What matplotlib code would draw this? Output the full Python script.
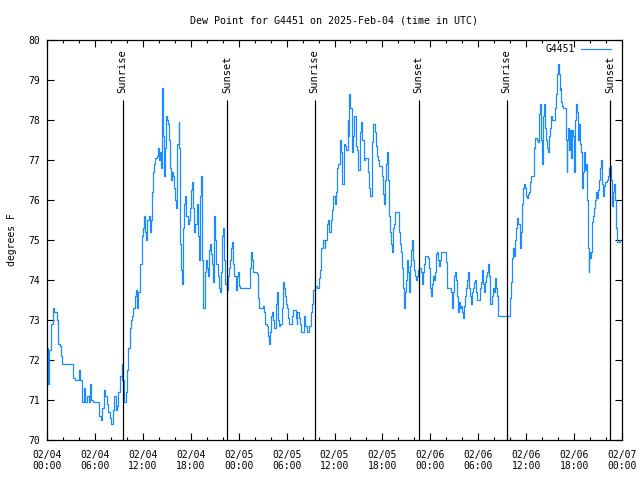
import pandas as pd
import matplotlib
matplotlib.use("Agg")
import matplotlib.pyplot as plt
import matplotlib.dates as mdates

plt.rcParams['font.family'] = ['DejaVu Sans Mono']
plt.rcParams['font.size'] = 7

station = "G4451"
start = pd.Timestamp("2025-02-04 00:00")

# minutes after 02/04 00:00 UTC
minutes = [
    0, 4, 8, 15, 30, 45, 52, 75, 82, 98,
    105, 112, 188, 195, 210, 232, 240, 248, 262, 278,
    285, 300, 315, 322, 330, 345, 382, 390, 405, 412,
    428, 435, 450, 458, 472, 480, 495, 502, 518, 525,
    532, 548, 562, 566, 578, 592, 600, 608, 622, 630,
    638, 645, 660, 668, 675, 682,
    698, 712, 720, 728, 735, 742, 750, 765, 772, 780,
    788, 795, 802, 810, 825, 832, 840, 848, 855, 862,
    866, 870, 878, 885, 892, 900, 908, 915, 922, 930,
    938, 945, 952, 960, 968, 975, 990, 994, 998, 1005,
    1012, 1020, 1028, 1035, 1042, 1058, 1065, 1072, 1080, 1088,
    1095, 1102, 1110, 1125, 1132, 1140, 1148, 1155, 1162, 1170,
    1174, 1185, 1192, 1200, 1208, 1215, 1222, 1230, 1238, 1245,
    1252, 1260, 1268, 1282, 1290, 1298, 1305, 1312, 1320, 1328,
    1335, 1350, 1358, 1365, 1372, 1380, 1388, 1395, 1402, 1418,
    1425, 1432, 1440, 1448, 1515, 1522, 1530, 1538, 1545, 1560,
    1575, 1582, 1590, 1612, 1620, 1628, 1635, 1650, 1658, 1665,
    1672, 1680, 1688, 1695, 1702, 1718, 1721, 1725, 1732, 1740,
    1748, 1762, 1770, 1778, 1785, 1792, 1800, 1808, 1815, 1830,
    1838, 1845, 1860, 1868, 1875, 1882, 1890, 1898, 1912, 1928,
    1931, 1942, 1950, 1965, 1972, 1980, 1988, 1995, 2002, 2010,
    2032, 2040, 2048, 2055, 2062, 2070, 2078, 2085, 2092, 2100,
    2108, 2115, 2122, 2130, 2138, 2145, 2152, 2160, 2168, 2175,
    2182, 2190, 2198, 2205, 2212, 2216, 2220, 2228, 2235, 2242,
    2250, 2258, 2265, 2269, 2272, 2280, 2288, 2295, 2299, 2302,
    2310, 2318, 2325, 2332, 2340, 2348, 2355, 2362, 2370, 2378,
    2385, 2392, 2400, 2408, 2415, 2422, 2430, 2438, 2445, 2449,
    2460, 2468, 2475, 2482, 2490, 2498, 2505, 2520, 2528, 2535,
    2542, 2550, 2558, 2565, 2569, 2572, 2580, 2588, 2595, 2602,
    2610, 2618, 2640, 2648, 2655, 2662, 2670, 2678, 2685, 2692,
    2700, 2708, 2715, 2722, 2730, 2738, 2745, 2752, 2760, 2768,
    2775, 2782, 2790, 2798, 2805, 2812, 2820, 2828, 2835, 2842,
    2858, 2865, 2872, 2880, 2888, 2895, 2902, 2910, 2918, 2921,
    2925, 2932, 2940, 2948, 2955, 2962, 2992, 3000, 3004, 3008,
    3030, 3038, 3045, 3052, 3060, 3068, 3075, 3082, 3090, 3098,
    3105, 3112, 3120, 3128, 3135, 3142, 3150, 3158, 3165, 3172,
    3180, 3188, 3195, 3202, 3210, 3218, 3225, 3232, 3248, 3255,
    3262, 3266, 3270, 3278, 3285, 3292, 3300, 3308, 3315, 3322,
    3330, 3338, 3345, 3352, 3360, 3368, 3375, 3382, 3390, 3472,
    3480, 3488, 3495, 3502, 3510, 3518, 3525, 3532, 3540, 3548,
    3555, 3562, 3570, 3578, 3585, 3592, 3600, 3608, 3615, 3622,
    3630, 3638, 3652, 3656, 3660, 3668, 3675, 3682, 3690, 3698,
    3705, 3712, 3720, 3724, 3728, 3735, 3742, 3750, 3758, 3765,
    3772, 3780, 3788, 3795, 3802, 3810, 3818, 3825, 3832, 3840,
    3848, 3851, 3855, 3862, 3870, 3878, 3892, 3900, 3904, 3908,
    3915, 3922, 3930, 3938, 3945, 3952, 3960, 3968, 3975, 3982,
    3990, 3998, 4005, 4012, 4020, 4028, 4035, 4042, 4050, 4058,
    4065, 4069, 4072, 4080, 4088, 4095, 4102, 4110, 4118, 4125,
    4132, 4140, 4148, 4155, 4162, 4170, 4178, 4185, 4192, 4200,
    4208, 4215, 4222, 4230, 4238, 4245, 4252, 4260, 4268, 4275,
    4282, 4298, 4305,
]

# dew point, degrees F
dewpt = [
    72.3, 72.0, 71.4, 72.25, 72.9, 73.3, 73.2, 73.0, 72.4, 72.35,
    72.1, 71.9, 71.9, 71.55, 71.5, 71.5, 71.75, 71.5, 70.95, 71.3,
    70.95, 71.1, 70.95, 71.4, 71.0, 70.95, 70.95, 70.6, 70.5, 70.8,
    71.25, 71.1, 70.9, 70.7, 70.55, 70.4, 70.75, 71.1, 70.75, 70.85,
    71.2, 71.6, 71.9, 71.5, 70.95, 71.2, 71.75, 72.3, 72.8, 73.0,
    73.1, 73.3, 73.6, 73.75, 73.3, 73.7,
    74.4, 75.1, 75.3, 75.6, 75.2, 75.0, 75.5, 75.6, 75.2, 75.5,
    76.2, 76.7, 76.9, 77.05, 77.1, 77.3, 77.0, 77.2, 76.8, 78.3,
    78.8, 77.6, 76.6, 77.3, 78.1, 78.0, 77.9, 77.5, 76.8, 76.5,
    76.7, 76.6, 76.3, 76.0, 75.8, 77.4, 77.95, 77.3, 74.9, 74.25,
    73.9, 75.3, 75.9, 76.1, 75.6, 75.4, 75.5, 75.8, 76.25, 76.45,
    75.8, 75.2, 75.4, 75.9, 75.1, 74.5, 76.1, 76.6, 74.5, 73.75,
    73.3, 74.2, 74.5, 74.3, 74.1, 74.75, 74.9, 74.65, 74.4, 73.95,
    75.6, 75.0, 74.4, 74.1, 73.8, 73.7, 74.2, 75.1, 75.3, 74.5,
    73.9, 73.75, 74.1, 74.3, 74.5, 74.8, 74.95, 74.4, 74.1, 73.75,
    74.1, 74.2, 73.85, 73.8, 73.8, 74.3, 74.7, 74.5, 74.2, 74.2,
    74.15, 73.55, 73.3, 73.3, 73.35, 73.2, 72.9, 72.85, 72.6, 72.4,
    72.7, 73.1, 73.2, 73.0, 72.8, 72.8, 73.4, 73.7, 73.0, 72.85,
    72.9, 73.3, 73.95, 73.8, 73.6, 73.4, 73.3, 73.05, 72.9, 72.9,
    73.1, 73.25, 73.25, 73.05, 72.9, 73.2, 73.05, 72.9, 72.7, 72.7,
    73.1, 72.85, 72.7, 72.7, 72.85, 73.2, 73.4, 73.6, 73.75, 73.85,
    73.8, 74.05, 74.25, 74.6, 74.8, 75.0, 75.0, 74.8, 75.0, 75.4,
    75.5, 75.2, 75.2, 75.5, 75.75, 76.0, 76.1, 75.9, 76.0, 76.2,
    76.8, 76.9, 77.3, 77.5, 77.2, 76.7, 76.4, 77.2, 77.4, 77.35,
    77.25, 78.0, 77.6, 78.45, 78.65, 78.3, 77.5, 77.2, 77.5, 77.6,
    78.1, 77.6, 77.35, 77.25, 76.75, 77.0, 77.7, 77.95, 77.5, 77.15,
    77.0, 77.05, 77.05, 77.0, 76.7, 76.3, 76.1, 76.6, 77.45, 77.9,
    77.9, 77.7, 77.35, 77.1, 77.0, 76.85, 76.85, 76.6, 76.15, 75.9,
    76.5, 76.9, 77.2, 76.5, 76.0, 75.6, 75.2, 74.9, 74.7, 75.3,
    75.4, 75.7, 75.7, 75.2, 74.9, 74.7, 74.3, 73.8, 73.3, 73.7,
    74.0, 74.5, 74.2, 73.7, 74.35, 74.75, 75.0, 74.5, 74.25, 74.1,
    74.0, 74.1, 74.25, 74.3, 74.3, 74.2, 73.9, 74.2, 74.4, 74.6,
    74.6, 74.55, 74.3, 73.8, 73.6, 73.9, 74.1, 74.0, 74.2, 74.5,
    74.65, 74.7, 74.5, 74.35, 74.5, 74.7, 74.7, 74.45, 74.05, 73.8,
    73.8, 73.7, 73.3, 73.7, 74.1, 74.2, 74.0, 73.6, 73.2, 73.45,
    73.3, 73.35, 73.2, 73.05, 73.35, 73.6, 73.8, 74.0, 74.2, 73.8,
    73.6, 73.4, 73.7, 73.8, 73.95, 74.0, 73.7, 73.5, 73.5, 73.8,
    73.95, 74.1, 74.25, 73.9, 73.7, 73.95, 74.1, 74.2, 74.4, 74.1,
    73.4, 73.4, 73.6, 73.8, 73.7, 74.05, 73.8, 73.6, 73.1, 73.1,
    73.55, 73.95, 74.55, 74.8, 74.6, 75.0, 75.3, 75.55, 75.4, 75.4,
    74.8, 75.2, 75.9, 76.3, 76.4, 76.3, 76.1, 76.05, 76.15, 76.2,
    76.45, 76.6, 76.6, 76.8, 77.3, 77.55, 77.55, 77.5, 77.45, 78.15,
    78.4, 77.5, 76.9, 77.6, 78.1, 78.4, 77.8, 77.5, 77.3, 77.2,
    77.6, 77.8, 78.1, 78.0, 78.0, 78.0, 78.3, 78.65, 79.15, 79.4,
    79.15, 78.75, 78.8, 78.45, 78.35, 78.3, 78.3, 77.5, 76.7, 77.5,
    77.8, 77.25, 77.75, 77.05, 77.75, 77.6, 76.7, 78.0, 78.4, 78.2,
    77.5, 77.9, 77.4, 77.2, 76.3, 76.7, 77.2, 76.75, 76.9, 76.0,
    74.8, 74.2, 74.7, 74.55, 74.7, 75.45, 75.6, 75.8, 76.0, 76.2,
    76.05, 76.25, 76.5, 76.8, 77.0, 76.4, 76.1, 76.35, 76.45, 76.45,
    76.5, 76.6, 76.8, 76.85, 76.5, 75.85, 76.2, 76.4, 76.0, 75.3,
    74.95, 74.95, 75.0,
]

sunrise = ["2025-02-04 09:28", "2025-02-05 09:30", "2025-02-06 09:33"]
sunset = ["2025-02-04 22:31", "2025-02-05 22:32", "2025-02-06 22:33"]

assert len(minutes) == len(dewpt)
times = start + pd.to_timedelta(minutes, unit="min")

fig = plt.figure(figsize=(6.4, 4.8), dpi=100)
ax = fig.add_axes([47 / 640, 40 / 480, 575 / 640, 400 / 480])

ax.plot(times, dewpt, color="#1a8cff", lw=0.9, drawstyle="steps-post",
        label=station)

for label, events in (("Sunrise", sunrise), ("Sunset", sunset)):
    for t in pd.to_datetime(events):
        ax.vlines(t, 70, 78.5, color="black", lw=0.9)
        ax.text(t, 78.68, label, rotation=90, ha="center", va="bottom",
                fontsize=7.5)

ax.set_xlim(start, start + pd.Timedelta(days=3))
ax.set_ylim(70, 80)
ax.xaxis.set_major_locator(mdates.HourLocator(byhour=range(0, 24, 6)))
ax.xaxis.set_minor_locator(mdates.HourLocator(byhour=range(0, 24, 2)))
ax.xaxis.set_major_formatter(mdates.DateFormatter("%m/%d\n%H:%M"))
ax.set_yticks(range(70, 81))

ax.tick_params(which="both", direction="in", top=True, right=True, width=0.8)
ax.tick_params(which="major", length=5)
ax.tick_params(which="minor", length=2.5)
ax.tick_params(axis="x", pad=7)
ax.tick_params(axis="y", pad=5)
for s in ax.spines.values():
    s.set_linewidth(0.9)

ax.set_title("Dew Point for %s on 2025-Feb-04 (time in UTC)" % station,
             fontsize=7.2, pad=12)
ax.set_ylabel("degrees F", labelpad=8)

ax.legend(loc="upper right", bbox_to_anchor=(0.981, 0.99), frameon=False,
          markerfirst=False, handlelength=3.1, handletextpad=0.6,
          borderpad=0, borderaxespad=0)

fig.savefig("out.png", dpi=100)
